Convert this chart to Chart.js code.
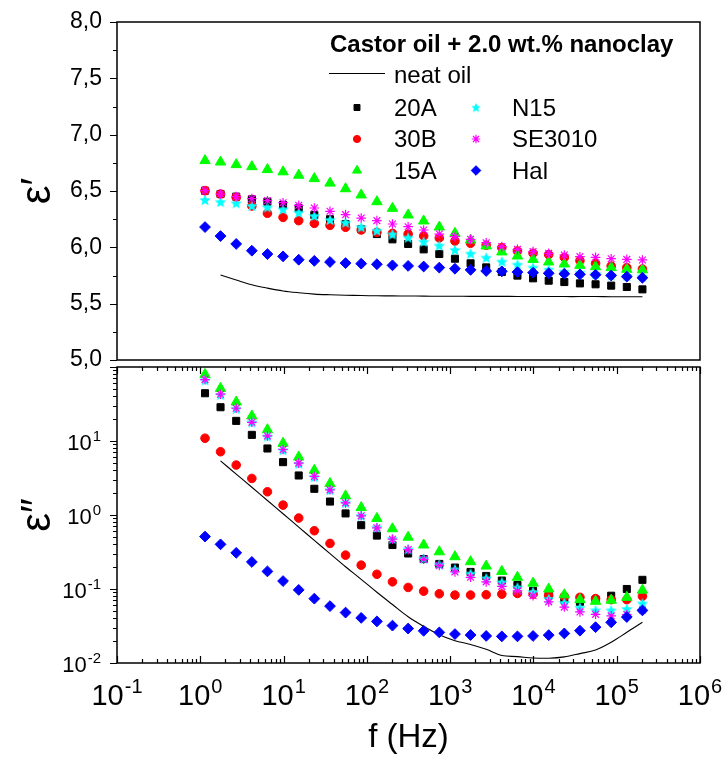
<!DOCTYPE html>
<html><head><meta charset="utf-8">
<script src="https://cdn.jsdelivr.net/npm/chart.js@4/dist/chart.umd.min.js"></script>
<style>
html,body{margin:0;padding:0;background:#fff;}
#wrap{position:relative;width:723px;height:761px;overflow:hidden;background:#fff;}
#c1{position:absolute;left:0;top:0;}
#c2{position:absolute;left:0;top:360px;}
</style></head><body>
<div id="wrap">
<canvas id="c1" width="723" height="400"></canvas>
<canvas id="c2" width="723" height="401"></canvas>
</div>
<script>
// ---------------- DATA ----------------
const freqHz = [1.14, 1.75, 2.70, 4.16, 6.40, 9.86, 15.2, 23.4, 36.1, 55.5, 85.5, 132, 203, 313, 481, 741, 1142, 1759, 2709, 4173, 6427, 9899, 15250, 23490, 36170, 55720, 85820, 132200, 203600];

const seriesNames = ['20A', '30B', '15A', 'N15', 'SE3010', 'Hal'];

// real part eps'
const epsR_20A    = [6.503,6.473,6.450,6.426,6.405,6.376,6.346,6.287,6.249,6.207,6.160,6.118,6.071,6.030,5.982,5.941,5.899,5.858,5.822,5.781,5.749,5.725,5.704,5.692,5.680,5.672,5.660,5.648,5.627];
const epsR_30B    = [6.503,6.473,6.444,6.367,6.302,6.266,6.237,6.213,6.195,6.178,6.154,6.133,6.124,6.118,6.101,6.083,6.056,6.036,6.018,5.997,5.967,5.947,5.935,5.911,5.882,5.858,5.834,5.820,5.808];
const epsR_15A    = [6.770,6.757,6.734,6.716,6.690,6.670,6.640,6.610,6.570,6.520,6.465,6.405,6.346,6.287,6.234,6.180,6.124,6.065,6.012,5.959,5.923,5.893,5.870,5.852,5.840,5.828,5.820,5.805,5.800];
const epsR_N15    = [6.420,6.402,6.391,6.367,6.355,6.337,6.308,6.278,6.243,6.219,6.178,6.148,6.115,6.086,6.050,6.015,5.976,5.944,5.908,5.873,5.846,5.820,5.802,5.784,5.775,5.763,5.751,5.746,5.740];
const epsR_SE3010 = [6.503,6.473,6.450,6.432,6.414,6.396,6.373,6.349,6.320,6.290,6.260,6.237,6.207,6.183,6.154,6.118,6.095,6.071,6.041,6.006,5.982,5.962,5.947,5.932,5.917,5.911,5.899,5.893,5.888];
const epsR_Hal    = [6.180,6.100,6.030,5.970,5.940,5.920,5.890,5.880,5.870,5.860,5.855,5.850,5.840,5.835,5.830,5.820,5.810,5.800,5.790,5.787,5.780,5.775,5.770,5.765,5.760,5.757,5.750,5.740,5.730];
const epsR_neat   = [null,5.754,5.710,5.668,5.638,5.613,5.597,5.585,5.579,5.575,5.572,5.570,5.569,5.568,5.567,5.566,5.566,5.565,5.565,5.565,5.564,5.564,5.564,5.563,5.563,5.563,5.562,5.562,5.562];

// imaginary part eps''
const epsI_20A    = [44.2,28.6,18.7,12.1,7.92,5.18,3.42,2.26,1.52,1.05,0.728,0.527,0.393,0.302,0.254,0.218,0.195,0.170,0.150,0.130,0.113,0.0944,0.0818,0.0718,0.0670,0.0718,0.0811,0.100,0.133];
const epsI_30B    = [10.9,7.16,4.73,3.12,2.06,1.36,0.910,0.613,0.413,0.287,0.210,0.158,0.125,0.105,0.0935,0.0861,0.0828,0.0828,0.0837,0.0853,0.0871,0.0853,0.0820,0.0794,0.0771,0.0741,0.0718,0.0718,0.0800];
const epsI_15A    = [79.4,51.4,33.6,21.8,14.2,9.31,6.08,4.02,2.66,1.81,1.26,0.899,0.652,0.501,0.393,0.318,0.273,0.234,0.204,0.173,0.144,0.120,0.100,0.0835,0.0718,0.0682,0.0705,0.0771,0.0964];
const epsI_N15    = [66.2,42.0,27.2,17.8,11.5,7.53,4.92,3.25,2.17,1.45,0.975,0.678,0.476,0.344,0.257,0.214,0.184,0.161,0.139,0.123,0.1045,0.0906,0.0733,0.0649,0.0558,0.0514,0.0514,0.0536,0.0637];
const epsI_SE3010 = [67.6,42.9,27.7,17.9,11.7,7.68,5.02,3.32,2.19,1.46,0.975,0.671,0.471,0.341,0.252,0.208,0.170,0.144,0.125,0.1086,0.0944,0.0811,0.0670,0.0570,0.0490,0.0455,0.0433,0.0451,0.0520];
const epsI_Hal    = [0.511,0.401,0.308,0.232,0.173,0.128,0.0973,0.0741,0.0587,0.0480,0.0407,0.0365,0.0320,0.0292,0.0272,0.0259,0.0246,0.0239,0.0232,0.0229,0.0229,0.0232,0.0238,0.0251,0.0273,0.0305,0.0354,0.0418,0.0514];
const epsI_neat   = [null,5.40,3.57,2.37,1.57,1.04,0.686,0.454,0.301,0.200,0.135,0.0903,0.0617,0.0422,0.0313,0.0241,0.0200,0.0178,0.0153,0.0126,0.0122,0.0117,0.0116,0.0121,0.0134,0.0150,0.0191,0.0260,0.0355];

const yTicksReal = [5.0, 5.5, 6.0, 6.5, 7.0, 7.5, 8.0];
const yTicksImag = [0.01, 0.1, 1, 10];
const xTicksDecades = [0.1, 1, 10, 100, 1000, 10000, 100000, 1000000];

const legendTitle = 'Castor oil + 2.0 wt.% nanoclay';
const neatLabel = 'neat oil';
const xTitle = 'f (Hz)';
const yTitleReal = 'ε\u2032';
const yTitleImag = 'ε\u2033';

// ---------------- STYLE ----------------
const FONT = "'Liberation Sans', Arial, Helvetica, sans-serif";
Chart.defaults.font.family = FONT;
Chart.defaults.color = '#000';

function makeStar(color, size) {
  const c = document.createElement('canvas');
  c.width = size; c.height = size;
  const g = c.getContext('2d');
  const cx = size / 2, cy = size / 2 + 0.4, R = size / 2, r = R * 0.45;
  g.beginPath();
  for (let k = 0; k < 10; k++) {
    const ang = -Math.PI / 2 + k * Math.PI / 5;
    const rad = (k % 2) ? r : R;
    g.lineTo(cx + rad * Math.cos(ang), cy + rad * Math.sin(ang));
  }
  g.closePath();
  g.fillStyle = color;
  g.fill();
  return c;
}
const starBig = makeStar('#00ffff', 12);
const starSmall = makeStar('#00ffff', 10);

const markerStyle = {
  '20A':    {pointStyle: 'rect',     radius: 5.0, color: '#000000', bw: 1,   legend: {pointStyle: 'rect', radius: 4.2}},
  '30B':    {pointStyle: 'circle',   radius: 4.3, color: '#ff0000', bw: 1,   legend: {pointStyle: 'circle', radius: 3.6}},
  '15A':    {pointStyle: 'triangle', radius: 6.0, color: '#00ff00', bw: 1,   legend: {pointStyle: 'triangle', radius: 5.2}},
  'N15':    {pointStyle: starBig,    radius: 6.0, color: '#00ffff', bw: 1,   legend: {pointStyle: starSmall, radius: 5}},
  'SE3010': {pointStyle: 'star',     radius: 4.8, color: '#ff00ff', bw: 1.2, legend: {pointStyle: 'star', radius: 4.3}},
  'Hal':    {pointStyle: 'rectRot',  radius: 5.4, color: '#0000ff', bw: 1,   legend: {pointStyle: 'rectRot', radius: 4.8}}
};

function buildDatasets(seriesArrays, neatArray) {
  const ds = [];
  ds.push({
    label: neatLabel,
    data: freqHz.map((f, i) => ({x: f, y: neatArray[i]})).filter(p => p.y !== null),
    showLine: true, pointRadius: 0, borderColor: '#000', borderWidth: 1.1,
    tension: 0.35, order: 10, clip: false
  });
  seriesNames.forEach((name, k) => {
    const st = markerStyle[name];
    ds.push({
      label: name,
      data: freqHz.map((f, i) => ({x: f, y: seriesArrays[k][i]})),
      showLine: false,
      pointStyle: st.pointStyle, pointRadius: st.radius,
      pointBackgroundColor: st.color, pointBorderColor: st.color, pointBorderWidth: st.bw,
      order: 6 - k, clip: false
    });
  });
  return ds;
}

// ticks & frame plugin: draws box and tick marks using the chart's scales
const framePlugin = {
  id: 'frame',
  afterDatasetsDraw(chart, args, o) {
    const {ctx, chartArea: a} = chart;
    const xs = chart.scales.x, ys = chart.scales.y;
    ctx.save();
    ctx.strokeStyle = '#000';
    ctx.lineWidth = 1.5;
    ctx.strokeRect(a.left, a.top, a.right - a.left, a.bottom - a.top);
    ctx.lineWidth = 1.2;
    ctx.beginPath();
    (o.yTicks || []).forEach(([v, len]) => {
      const py = Math.round(ys.getPixelForValue(v)) + 0.5;
      ctx.moveTo(a.left, py); ctx.lineTo(a.left - len, py);
    });
    (o.xTicks || []).forEach(([v, len]) => {
      const px = Math.round(xs.getPixelForValue(v)) + 0.5;
      if (o.xTop) { ctx.moveTo(px, a.top); ctx.lineTo(px, a.top + len); }
      if (o.xBottom) { ctx.moveTo(px, a.bottom); ctx.lineTo(px, a.bottom - len); }
    });
    ctx.stroke();

    // power-of-ten tick labels with raised exponents, positioned from the scales
    ctx.fillStyle = '#000';
    ctx.textBaseline = 'alphabetic';
    ctx.textAlign = 'left';
    const drawPow = (v, anchorX, baseY, baseSize, supSize, supRise, align) => {
      const exp = String(Math.round(Math.log10(v)));
      ctx.font = baseSize + 'px ' + FONT;
      const wb = ctx.measureText('10').width;
      ctx.font = supSize + 'px ' + FONT;
      const we = ctx.measureText(exp).width;
      const total = wb + we + 1;
      const x0 = align === 'center' ? anchorX - total / 2 : anchorX - total;
      ctx.font = baseSize + 'px ' + FONT;
      ctx.fillText('10', x0, baseY);
      ctx.font = supSize + 'px ' + FONT;
      ctx.fillText(exp, x0 + wb + 1, baseY - supRise);
    };
    if (o.xLabels) o.xLabels.forEach(v => drawPow(v, xs.getPixelForValue(v), a.bottom + 42, 29, 20, 12, 'center'));
    if (o.yLabels) o.yLabels.forEach(v => drawPow(v, a.left - 16, ys.getPixelForValue(v) + 8.5, 22, 15, 8.5, 'right'));
    ctx.restore();
  }
};

function drawMarker(ctx, st, x, y) {
  ctx.save();
  ctx.fillStyle = st.color; ctx.strokeStyle = st.color; ctx.lineWidth = st.bw;
  Chart.helpers.drawPoint(ctx, {pointStyle: st.legend.pointStyle, radius: st.legend.radius, borderWidth: st.bw, rotation: 0}, x, y);
  ctx.restore();
}

const legendPlugin = {
  id: 'boxLegend',
  afterDraw(chart) {
    const ctx = chart.ctx;
    ctx.save();
    ctx.fillStyle = '#000';
    ctx.textAlign = 'left';
    ctx.textBaseline = 'alphabetic';
    ctx.font = 'bold 24px ' + FONT;
    ctx.fillText(legendTitle, 330, 52);
    ctx.font = '24px ' + FONT;
    ctx.strokeStyle = '#000'; ctx.lineWidth = 1.1;
    ctx.beginPath(); ctx.moveTo(329, 73.5); ctx.lineTo(385, 73.5); ctx.stroke();
    ctx.fillText(neatLabel, 394, 83);
    const rowsY = [107.5, 139, 170.5];
    const colSym = [357, 476];
    const colTxt = [394, 512];
    seriesNames.forEach((name, k) => {
      const col = Math.floor(k / 3), row = k % 3;
      drawMarker(ctx, markerStyle[name], colSym[col], rowsY[row]);
      ctx.fillStyle = '#000';
      ctx.fillText(name, colTxt[col], rowsY[row] + 8);
    });
    ctx.restore();
  }
};

const minorLog = (lo, hi) => {
  const out = [];
  for (let n = lo; n <= hi; n++) for (let k = 2; k <= 9; k++) out.push([k * Math.pow(10, n), 4]);
  return out;
};

// ---------------- TOP CHART (eps') ----------------
new Chart(document.getElementById('c1'), {
  type: 'scatter',
  data: {datasets: buildDatasets([epsR_20A, epsR_30B, epsR_15A, epsR_N15, epsR_SE3010, epsR_Hal], epsR_neat)},
  options: {
    responsive: false, animation: false, events: [],
    layout: {padding: {top: 22, right: 23, bottom: 40, left: 0}},
    plugins: {
      legend: {display: false}, tooltip: {enabled: false},
      frame: {yTicks: yTicksReal.map(v => [v, 7]).concat([5.25, 5.75, 6.25, 6.75, 7.25, 7.75].map(v => [v, 4]))}
    },
    scales: {
      x: {type: 'logarithmic', min: 0.1, max: 1e6, display: false},
      y: {
        type: 'linear', min: 5, max: 8,
        afterBuildTicks(s) { s.ticks = yTicksReal.map(v => ({value: v})); },
        afterFit(s) { s.width = 117; s.paddingTop = 0; s.paddingBottom = 0; },
        grid: {display: false, drawTicks: false}, border: {display: false},
        ticks: {padding: 15, color: '#000', font: {size: 23}, callback: v => Number(v).toFixed(1).replace('.', ',')},
        title: {display: true, text: yTitleReal, color: '#000', font: {size: 42}, padding: {top: 13, bottom: 0}}
      }
    }
  },
  plugins: [framePlugin, legendPlugin]
});

// ---------------- BOTTOM CHART (eps'') ----------------
new Chart(document.getElementById('c2'), {
  type: 'scatter',
  data: {datasets: buildDatasets([epsI_20A, epsI_30B, epsI_15A, epsI_N15, epsI_SE3010, epsI_Hal], epsI_neat)},
  options: {
    responsive: false, animation: false, events: [],
    layout: {padding: {top: 0, right: 23, bottom: 0, left: 0}},
    plugins: {
      legend: {display: false}, tooltip: {enabled: false},
      frame: {
        yTicks: [0.01, 0.1, 1, 10, 100].map(v => [v, 7]).concat(minorLog(-2, 1)),
        xTicks: xTicksDecades.map(v => [v, 7]).concat(minorLog(-1, 5)),
        xTop: true, xBottom: true,
        xLabels: xTicksDecades, yLabels: yTicksImag
      }
    },
    scales: {
      x: {
        type: 'logarithmic', min: 0.1, max: 1e6, position: 'bottom',
        afterBuildTicks(s) { s.ticks = xTicksDecades.map(v => ({value: v})); },
        afterFit(s) { s.height = 98; s.paddingLeft = 0; s.paddingRight = 0; },
        grid: {display: false, drawTicks: false}, border: {display: false},
        ticks: {display: false},
        title: {display: true, text: xTitle, color: '#000', font: {size: 33}, padding: {top: 0, bottom: 3}}
      },
      y: {
        type: 'logarithmic', min: 0.01, max: 100,
        afterBuildTicks(s) { s.ticks = yTicksImag.map(v => ({value: v})); },
        afterFit(s) { s.width = 117; s.paddingTop = 0; s.paddingBottom = 0; },
        grid: {display: false, drawTicks: false}, border: {display: false},
        ticks: {display: false},
        title: {display: true, text: yTitleImag, color: '#000', font: {size: 42}, padding: {top: 13, bottom: 0}}
      }
    }
  },
  plugins: [framePlugin]
});
</script>
</body></html>
